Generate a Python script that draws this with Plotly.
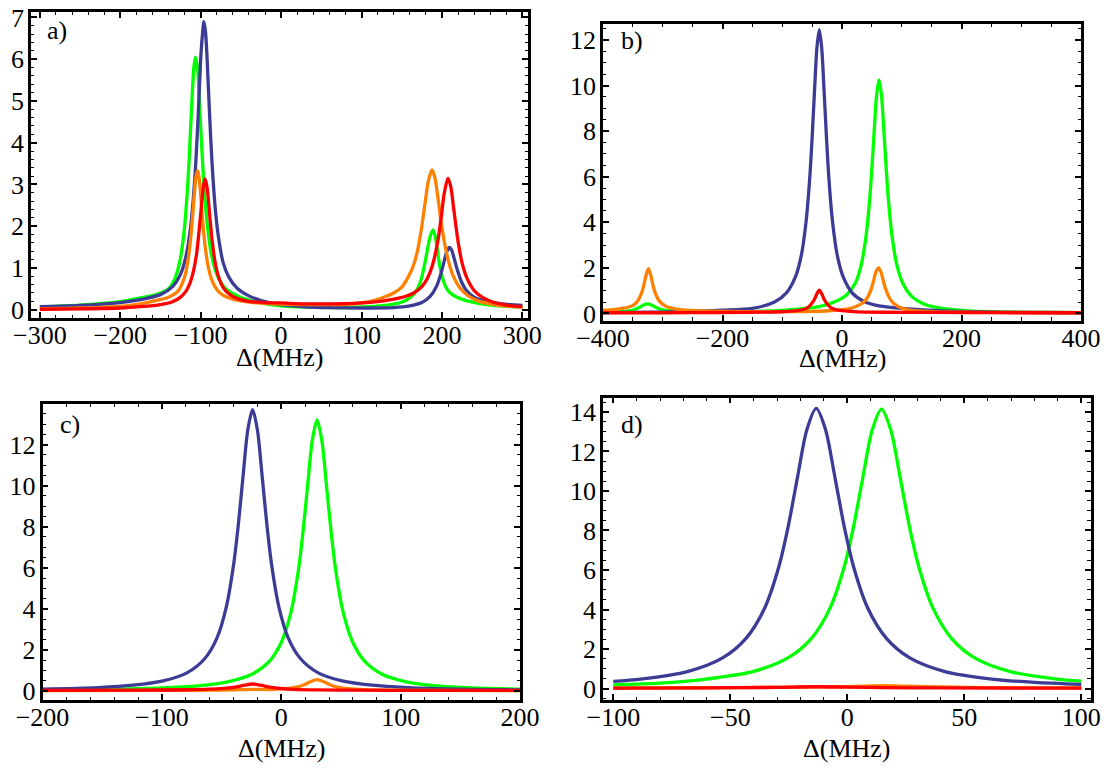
import plotly.graph_objects as go

# ---------------- data ----------------
# panel a
A_GREEN_X = [-300,-250,-200,-175,-155,-140,-132,-126,-121,-117,-114,-111,-108.5,-106.5,-104,-101,-98,-94.5,-91,-87,-82,-77,-70,-60,-45,-25,0,30,70,110,140,155,165,172,177,181,185,188.8,192,195,198,202,207,213,222,235,255,280,300]
A_GREEN_Y = [0.07,0.11,0.19,0.28,0.36,0.5,0.75,1.15,1.8,2.73,3.73,4.96,5.8,6.05,5.8,4.75,3.65,2.62,1.9,1.36,0.96,0.72,0.52,0.38,0.26,0.16,0.09,0.06,0.05,0.07,0.13,0.22,0.37,0.6,0.95,1.34,1.73,1.91,1.72,1.32,0.98,0.68,0.47,0.36,0.27,0.19,0.12,0.08,0.06]
A_BLUE_X = [-300,-250,-200,-175,-150,-135,-125,-118,-113,-109,-106,-103,-100,-98,-96,-94,-92,-89,-86,-82,-78,-72,-65,-55,-40,-25,0,30,60,100,140,160,175,185,193,199,203,206,209.4,212,215,219,224,230,240,255,275,300]
A_BLUE_Y = [0.07,0.1,0.17,0.24,0.36,0.55,0.85,1.3,1.9,2.7,3.55,4.7,6.0,6.55,6.9,6.65,6.0,4.7,3.55,2.45,1.75,1.12,0.78,0.52,0.33,0.22,0.12,0.07,0.05,0.04,0.05,0.09,0.17,0.31,0.55,0.88,1.18,1.39,1.49,1.43,1.24,0.96,0.68,0.47,0.3,0.2,0.14,0.1]
A_ORANGE_X = [-300,-250,-200,-175,-155,-140,-128,-120,-116,-112,-110,-108,-106,-104,-102,-100,-97,-94,-90,-86,-80,-72,-60,-40,-20,0,30,60,90,110,125,140,150,158,165,170,175,179,183,187.5,191,195,199,203,208,214,222,232,245,260,280,300]
A_ORANGE_Y = [0.02,0.04,0.08,0.14,0.22,0.3,0.45,0.78,1.15,1.8,2.25,2.75,3.17,3.33,3.17,2.75,2.0,1.45,0.97,0.7,0.48,0.34,0.25,0.18,0.15,0.13,0.12,0.12,0.14,0.19,0.28,0.4,0.54,0.78,1.08,1.45,2.0,2.55,3.07,3.35,3.18,2.68,2.1,1.62,1.17,0.81,0.53,0.34,0.21,0.14,0.087,0.058]
A_RED_X = [-300,-250,-200,-175,-150,-135,-125,-118,-113,-109,-105,-102,-99,-96.5,-94.5,-92,-89,-86,-82,-78,-72,-65,-55,-40,-20,0,30,60,90,120,140,155,165,175,182,188,194.5,199,203,207.5,211,215,220,225,231,240,250,262,280,300]
A_RED_Y = [0.01,0.02,0.04,0.07,0.12,0.19,0.3,0.45,0.65,0.92,1.35,1.88,2.5,2.97,3.13,2.92,2.3,1.7,1.13,0.8,0.53,0.38,0.27,0.2,0.17,0.16,0.14,0.14,0.15,0.19,0.25,0.32,0.4,0.55,0.75,1.05,1.6,2.2,2.8,3.15,2.94,2.36,1.64,1.12,0.76,0.46,0.3,0.19,0.11,0.07]

# panel b
B_GREEN_X = [-400,-370,-350,-340,-332,-325,-318,-308,-295,-270,-230,-180,-130,-88,-38,-13,7,22,32,40,46,50,54,58,62,66,70,74,78,84,92,102,117,137,162,212,262,312,360,400]
B_GREEN_Y = [0.04,0.08,0.15,0.25,0.37,0.42,0.36,0.22,0.13,0.08,0.07,0.08,0.1,0.16,0.3,0.5,0.8,1.31,2.11,3.34,4.9,6.36,8.05,9.6,10.25,9.6,8.05,6.36,4.9,3.34,2.11,1.31,0.74,0.41,0.24,0.11,0.07,0.05,0.04,0.03]
B_BLUE_X = [-400,-350,-300,-250,-200,-150,-113,-93,-78,-68,-60,-54,-50,-46,-42,-38,-34,-30,-26,-22,-16,-8,2,17,37,62,112,162,212,262,330,400]
B_BLUE_Y = [0.04,0.05,0.06,0.09,0.14,0.22,0.5,0.9,1.6,2.56,4.06,5.95,7.72,9.77,11.65,12.45,11.65,9.77,7.72,5.95,4.06,2.56,1.6,0.9,0.52,0.33,0.2,0.12,0.08,0.06,0.04,0.03]
B_ORANGE_X = [-400,-380,-360,-350,-342,-336,-332,-328,-324,-320,-316,-312,-306,-296,-280,-260,-220,-160,-100,-50,-10,10,21,35,43,49,53,57,61.3,65,69,73,79,87,101,121,160,220,300,400]
B_ORANGE_Y = [0.14,0.18,0.26,0.35,0.55,0.86,1.2,1.67,1.96,1.67,1.2,0.86,0.55,0.33,0.2,0.14,0.1,0.08,0.08,0.09,0.14,0.2,0.28,0.47,0.72,1.08,1.45,1.83,2.0,1.83,1.45,1.08,0.7,0.42,0.22,0.12,0.07,0.05,0.04,0.03]
B_RED_X = [-400,-300,-200,-120,-90,-68,-58,-52,-46.5,-42,-38,-34,-29.5,-24,-18,-8,14,40,100,200,300,400]
B_RED_Y = [0.03,0.03,0.04,0.06,0.09,0.15,0.24,0.39,0.6,0.86,1.02,0.86,0.6,0.39,0.24,0.15,0.09,0.06,0.05,0.04,0.03,0.03]

# panel c
C_GREEN_X = [-200,-140,-100,-70,-45,-25,-10,0,8,14,18,22,26,30,34,38,42,46,52,60,70,85,105,130,160,200]
C_GREEN_Y = [0.05,0.09,0.15,0.253,0.445,0.8,1.44,2.36,3.8,5.73,7.62,9.95,12.2,13.2,12.2,9.95,7.62,5.73,3.8,2.36,1.44,0.8,0.445,0.253,0.15,0.09]
C_BLUE_X = [-200,-154,-124,-99,-79,-64,-54,-46,-40,-36,-32,-28,-24,-20,-16,-12,-8,-2,6,16,31,51,76,106,150,200]
C_BLUE_Y = [0.09,0.165,0.28,0.49,0.88,1.58,2.56,4.1,6.12,8.08,10.46,12.72,13.7,12.72,10.46,8.08,6.12,4.1,2.56,1.58,0.88,0.49,0.28,0.165,0.09,0.057]
C_ORANGE_X = [-200,-100,-60,-40,-24,-10,0,8,14,19,24,30,36,41,46,52,62,80,120,200]
C_ORANGE_Y = [0.02,0.03,0.04,0.06,0.08,0.07,0.1,0.14,0.2,0.3,0.44,0.55,0.44,0.3,0.2,0.14,0.09,0.05,0.03,0.02]
C_RED_X = [-200,-120,-80,-60,-48,-40,-34,-29,-24,-19,-14,-8,0,10,30,60,120,200]
C_RED_Y = [0.03,0.04,0.06,0.09,0.13,0.18,0.24,0.3,0.34,0.3,0.24,0.18,0.12,0.08,0.05,0.04,0.03,0.03]

# panel d
D_GREEN_X = [-100,-80,-60.4,-40.4,-25.4,-15.4,-7.4,-1.4,2.6,6.6,10.6,14.6,18.6,22.6,26.6,30.6,36.6,44.6,54.6,69.6,89.6,100]
D_GREEN_Y = [0.18,0.27,0.48,0.86,1.55,2.53,4.07,6.14,8.16,10.66,13.07,14.14,13.07,10.66,8.16,6.14,4.07,2.53,1.54,0.86,0.48,0.38]
D_BLUE_X = [-100,-88.3,-68.3,-53.3,-43.3,-35.3,-29.3,-25.3,-21.3,-17.3,-13.3,-9.3,-5.3,-1.3,2.7,8.7,16.7,26.7,41.7,61.7,80,100]
D_BLUE_Y = [0.36,0.48,0.86,1.55,2.54,4.08,6.15,8.18,10.69,13.1,14.18,13.1,10.69,8.18,6.15,4.08,2.54,1.55,0.86,0.48,0.31,0.21]
D_ORANGE_X = [-100,-60,-35,-13,0,8,15,25,40,60,100]
D_ORANGE_Y = [0.02,0.04,0.06,0.09,0.1,0.12,0.14,0.12,0.08,0.05,0.03]
D_RED_X = [-100,-60,-30,-13,0,15,40,100]
D_RED_Y = [0.02,0.03,0.06,0.09,0.07,0.05,0.03,0.02]

PANEL_LABELS = ["a)", "b)", "c)", "d)"]
X_TITLE = "Δ(MHz)"
A_XTICKS = [-300, -200, -100, 0, 100, 200, 300]
A_YTICKS = [0, 1, 2, 3, 4, 5, 6, 7]
B_XTICKS = [-400, -200, 0, 200, 400]
B_YTICKS = [0, 2, 4, 6, 8, 10, 12]
C_XTICKS = [-200, -100, 0, 100, 200]
C_YTICKS = [0, 2, 4, 6, 8, 10, 12]
D_XTICKS = [-100, -50, 0, 50, 100]
D_YTICKS = [0, 2, 4, 6, 8, 10, 12, 14]

# ---------------- styling ----------------
GREEN = "#00FF00"
BLUE = "#3C3C96"
ORANGE = "#FF8000"
RED = "#FF0000"
FONT = "Liberation Serif, Times New Roman, DejaVu Serif, serif"
FS = 26
W, H = 1110, 768

panels = [
    dict(series=[(A_GREEN_X, A_GREEN_Y, GREEN), (A_BLUE_X, A_BLUE_Y, BLUE),
                 (A_ORANGE_X, A_ORANGE_Y, ORANGE), (A_RED_X, A_RED_Y, RED)],
         frame=(31, 528, 12, 318), xr=[-311, 307], yr=[-0.2, 7.13],
         xt=A_XTICKS, yt=A_YTICKS, xminor=20, yminor=0.2, label_px=(45, 30), title_dy=40),
    dict(series=[(B_GREEN_X, B_GREEN_Y, GREEN), (B_BLUE_X, B_BLUE_Y, BLUE),
                 (B_ORANGE_X, B_ORANGE_Y, ORANGE), (B_RED_X, B_RED_Y, RED)],
         frame=(603, 1081, 23.5, 320.5), xr=[-400, 400], yr=[-0.31, 12.72],
         xt=B_XTICKS, yt=B_YTICKS, xminor=50, yminor=0.5, label_px=(619, 41), title_dy=38),
    dict(series=[(C_GREEN_X, C_GREEN_Y, GREEN), (C_BLUE_X, C_BLUE_Y, BLUE),
                 (C_ORANGE_X, C_ORANGE_Y, ORANGE), (C_RED_X, C_RED_Y, RED)],
         frame=(42.5, 520, 403.5, 700), xr=[-200, 200], yr=[-0.44, 14.0],
         xt=C_XTICKS, yt=C_YTICKS, xminor=20, yminor=0.5, label_px=(58, 424), title_dy=48),
    dict(series=[(D_GREEN_X, D_GREEN_Y, GREEN), (D_BLUE_X, D_BLUE_Y, BLUE),
                 (D_ORANGE_X, D_ORANGE_Y, ORANGE), (D_RED_X, D_RED_Y, RED)],
         frame=(603, 1090.5, 397.5, 700), xr=[-104.4, 103.9], yr=[-0.58, 14.73],
         xt=D_XTICKS, yt=D_YTICKS, xminor=10, yminor=0.5, label_px=(619, 424), title_dy=48),
]

fig = go.Figure()
layout = dict(width=W, height=H, margin=dict(l=0, r=0, t=0, b=0, autoexpand=False),
              paper_bgcolor="white", plot_bgcolor="white", showlegend=False,
              font=dict(family=FONT, size=FS, color="black"))
annotations = []

def axis_style(dom, rng, ticks, minor, anchor, standoff):
    return dict(domain=dom, range=rng, anchor=anchor, tickvals=ticks, automargin=False,
                showline=True, linecolor="black", linewidth=2.8, mirror="allticks",
                ticks="inside", ticklen=6, tickwidth=1.6, tickcolor="black",
                ticklabelstandoff=standoff, ticklabeloverflow="allow",
                minor=dict(ticks="inside", ticklen=3.5, tickwidth=1.4, tickcolor="black",
                           dtick=minor, tick0=0, showgrid=False),
                showgrid=False, zeroline=False,
                tickfont=dict(family=FONT, size=FS, color="black"))

def px_x(p):
    return p / W

def px_y(p):
    return 1 - p / H

for i, p in enumerate(panels):
    n = "" if i == 0 else str(i + 1)
    x0, x1, y0, y1 = p["frame"]
    xdom = [px_x(x0), px_x(x1)]
    ydom = [px_y(y1), px_y(y0)]
    layout["xaxis" + n] = axis_style(xdom, p["xr"], p["xt"], p["xminor"], "y" + n, -8)
    layout["yaxis" + n] = axis_style(ydom, p["yr"], p["yt"], p["yminor"], "x" + n, -1)
    for xs, ys, col in p["series"]:
        fig.add_trace(go.Scatter(x=xs, y=ys, mode="lines",
                                 line=dict(color=col, width=3.3, shape="spline", smoothing=0.8),
                                 xaxis="x" + n, yaxis="y" + n, hoverinfo="skip"))
    lx, ly = p["label_px"]
    annotations.append(dict(text=PANEL_LABELS[i], x=px_x(lx), y=px_y(ly), xref="paper", yref="paper",
                            xanchor="left", yanchor="middle", showarrow=False,
                            font=dict(family=FONT, size=FS, color="black")))
    annotations.append(dict(text=X_TITLE, x=px_x((x0 + x1) / 2), y=px_y(y1 + p["title_dy"]),
                            xref="paper", yref="paper", xanchor="center", yanchor="middle",
                            showarrow=False, font=dict(family=FONT, size=FS, color="black")))

layout["annotations"] = annotations
fig.update_layout(**layout)
fig.write_html("out.html", config={"displayModeBar": False},
               post_script="document.body.style.margin='0';document.body.style.overflow='hidden';")
